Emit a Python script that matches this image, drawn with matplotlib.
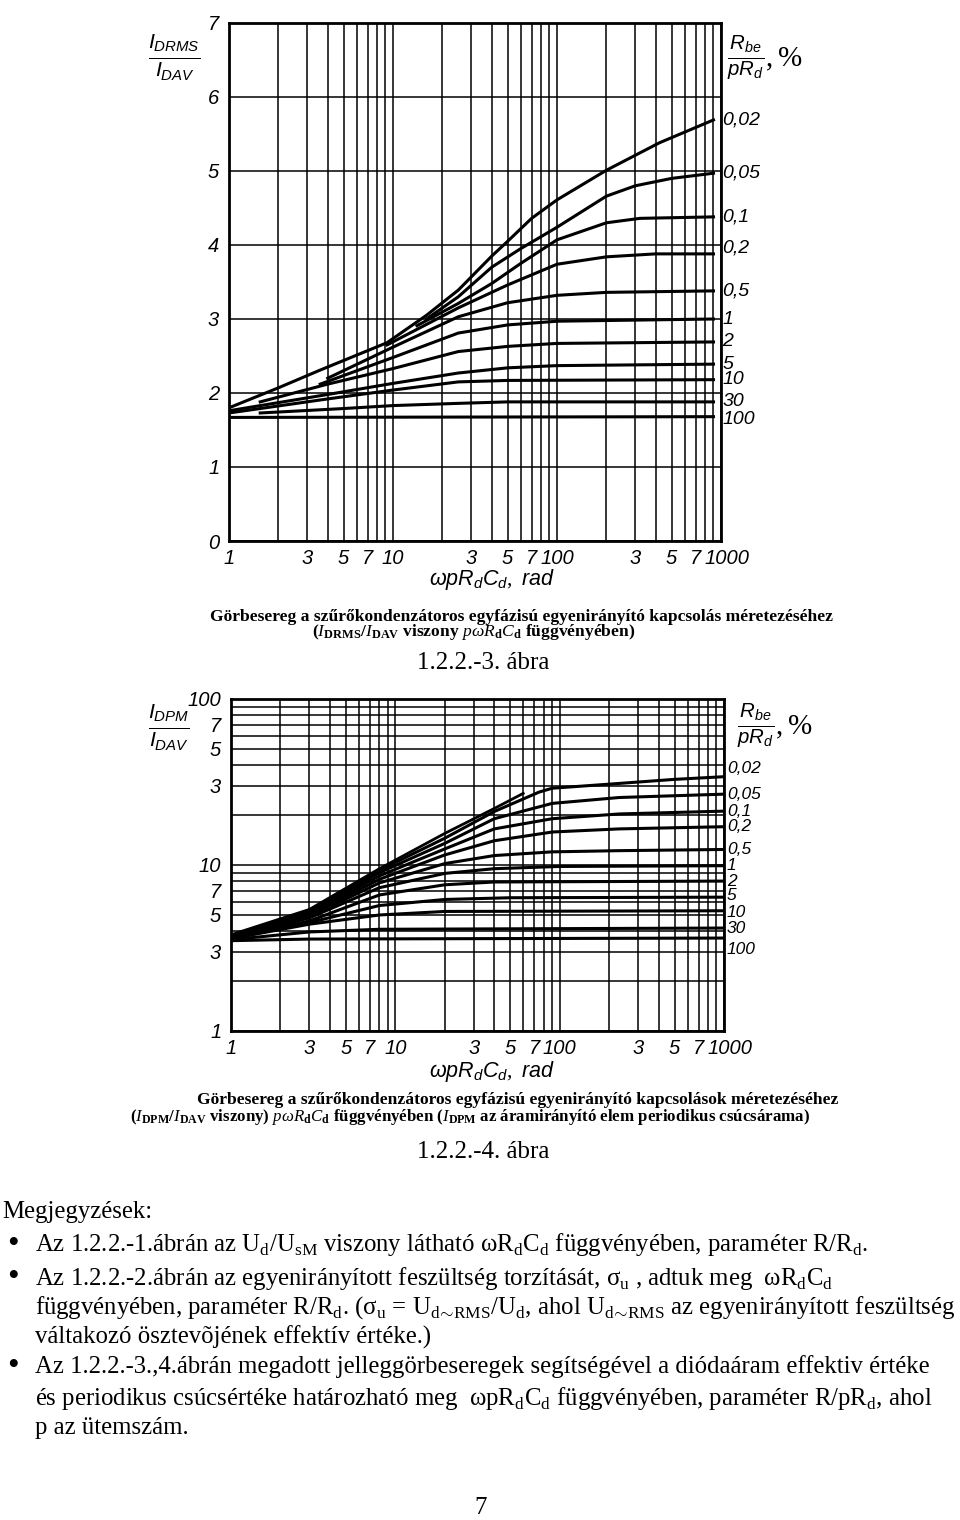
import matplotlib
matplotlib.use('Agg')
import matplotlib.pyplot as plt
from matplotlib.ticker import NullLocator
from matplotlib.transforms import ScaledTranslation

plt.rcParams['mathtext.fontset'] = 'custom'
plt.rcParams['mathtext.rm'] = 'Liberation Serif'
plt.rcParams['mathtext.it'] = 'Liberation Sans:italic'
plt.rcParams['mathtext.bf'] = 'Liberation Serif:bold'
plt.rcParams['mathtext.cal'] = 'Liberation Serif:italic'
plt.rcParams['mathtext.sf'] = 'Liberation Sans'

# ---- data ----
param_labels = ['0,02', '0,05', '0,1', '0,2', '0,5', '1', '2', '5', '10', '30', '100']

# 1.2.2.-3: I_DRMS / I_DAV vs omega*p*Rd*Cd
drms_x = [
    [1, 2, 3.6, 9.2, 16, 25, 40, 50, 70, 100, 200, 420, 900],
    [16, 25, 40, 60, 100, 200, 300, 500, 900],
    [14, 25, 40, 60, 100, 200, 320, 900],
    [9.2, 25, 50, 100, 200, 400, 900],
    [4.0, 10, 25, 50, 100, 200, 900],
    [3.6, 10, 25, 50, 100, 900],
    [1.55, 4, 10, 25, 50, 100, 900],
    [1, 4, 10, 25, 50, 100, 900],
    [1, 4, 10, 25, 50, 900],
    [1.55, 5, 10, 25, 50, 900],
    [1, 900],
]
drms_y = [
    [1.80, 2.07, 2.31, 2.68, 3.05, 3.39, 3.85, 4.05, 4.36, 4.61, 5.01, 5.38, 5.69],
    [3.00, 3.30, 3.70, 3.95, 4.24, 4.66, 4.80, 4.90, 4.97],
    [2.91, 3.21, 3.48, 3.75, 4.07, 4.30, 4.36, 4.38],
    [2.65, 3.15, 3.46, 3.74, 3.84, 3.88, 3.88],
    [2.20, 2.62, 3.03, 3.22, 3.32, 3.36, 3.38],
    [2.12, 2.48, 2.81, 2.92, 2.97, 3.00],
    [1.88, 2.12, 2.33, 2.56, 2.63, 2.67, 2.69],
    [1.76, 1.98, 2.13, 2.27, 2.34, 2.37, 2.39],
    [1.73, 1.92, 2.04, 2.15, 2.17, 2.18],
    [1.73, 1.79, 1.83, 1.86, 1.88, 1.88],
    [1.67, 1.68],
]

# 1.2.2.-4: I_DPM / I_DAV vs omega*p*Rd*Cd (log-log)
dpm_x = [
    [1, 3, 8, 20, 40, 75, 90, 230, 500, 980],
    [1, 3, 8, 20, 40, 90, 230, 980],
    [1, 3, 8, 20, 40, 90, 230, 980],
    [1, 3, 8, 20, 40, 90, 230, 980],
    [1, 3, 8, 20, 40, 90, 230, 980],
    [1, 3, 8, 20, 40, 100, 980],
    [1, 3, 8, 20, 40, 980],
    [1, 3, 8, 20, 50, 980],
    [1, 3, 8, 20, 980],
    [1, 3, 8, 980],
    [1, 3, 980],
]
dpm_y = [
    [3.75, 5.3, 9.3, 14.5, 21.0, 27.5, 29.0, 31.0, 32.8, 34.0],
    [3.75, 5.2, 9.0, 13.5, 19.0, 23.5, 25.5, 26.7],
    [3.70, 5.1, 8.6, 12.5, 16.5, 19.0, 20.3, 21.1],
    [3.70, 5.0, 8.2, 11.5, 14.0, 15.8, 16.5, 17.0],
    [3.70, 4.9, 7.8, 10.2, 11.4, 12.0, 12.2, 12.4],
    [3.65, 4.8, 7.3, 8.9, 9.5, 9.8, 9.9],
    [3.65, 4.6, 6.6, 7.6, 7.9, 8.0],
    [3.60, 4.5, 5.7, 6.2, 6.35, 6.4],
    [3.60, 4.4, 5.0, 5.25, 5.3],
    [3.55, 3.95, 4.1, 4.17],
    [3.50, 3.58, 3.63],
]
# short steep line drawn above the family, ending near 60
dpm_edge_x = [1, 3, 8, 20, 40, 60]
dpm_edge_y = [3.8, 5.4, 9.5, 15.5, 21.9, 27.0]

x_grid = [m * 10 ** e for e in range(3) for m in range(1, 10)] + [1000]
x_tick_text = {1: '1', 3: '3', 5: '5', 7: '7', 10: '10', 30: '3', 50: '5', 70: '7',
               100: '100', 300: '3', 500: '5', 700: '7', 1000: '1000'}
drms_y_ticks = [0, 1, 2, 3, 4, 5, 6, 7]
dpm_y_grid = list(range(1, 10)) + list(range(10, 101, 10))
dpm_y_tick_text = {1: '1', 3: '3', 5: '5', 7: '7', 10: '10', 30: '3', 50: '5', 70: '7', 100: '100'}

W, H = 960, 1520
fig = plt.figure(figsize=(W / 100, H / 100), dpi=100)
fig.patch.set_facecolor('white')

LET = dict(family='Liberation Sans', style='italic')


def ftext(x, y, s, **kw):
    return fig.text(x / W, 1 - y / H, s, **kw)


def px_axes(l, t, r, b):
    return fig.add_axes([l / W, 1 - b / H, (r - l) / W, (b - t) / H])


def dress(ax, yticks, ylabels):
    ax.set_xscale('log')
    ax.set_xlim(1, 1000)
    ax.set_xticks(x_grid)
    ax.set_xticklabels([x_tick_text.get(v, '') for v in x_grid])
    ax.xaxis.set_minor_locator(NullLocator())
    ax.set_yticks(yticks)
    ax.set_yticklabels(ylabels)
    ax.yaxis.set_minor_locator(NullLocator())
    ax.tick_params(length=0, labelsize=14.5)
    ax.tick_params(axis='x', pad=6)
    ax.tick_params(axis='y', pad=7)
    for lab in ax.get_xticklabels() + ax.get_yticklabels():
        lab.set_fontfamily('Liberation Sans')
        lab.set_fontstyle('italic')
    # the "1000" label sits a little to the right of its grid line
    last = ax.get_xticklabels()[-1]
    last.set_transform(last.get_transform() + ScaledTranslation(6 / 100, 0, fig.dpi_scale_trans))
    ax.grid(True, color='black', lw=1.1)
    ax.set_axisbelow(True)
    for sp in ax.spines.values():
        sp.set_linewidth(2)


# ---- top chart ----
ax1 = px_axes(229, 23, 721, 541)
ax1.set_ylim(0, 7)
dress(ax1, drms_y_ticks, [str(v) for v in drms_y_ticks])
for xs, ys in zip(drms_x, drms_y):
    ax1.plot(xs, ys, color='black', lw=2.2)
drms_dy = [0, 0, 0, 4, 0, 0, 0, 0, 0, 0, -2]
for lbl, ys, dy in zip(param_labels, drms_y, drms_dy):
    ax1.annotate(lbl, xy=(1, ys[-1]), xycoords=ax1.get_yaxis_transform(),
                 xytext=(1, dy), textcoords='offset points', ha='left', va='center',
                 fontsize=14, **LET)

ftext(174, 57, r'$\frac{I_{DRMS}}{I_{DAV}}$', fontsize=22, ha='center', va='center')
ftext(727, 58, r'$\frac{R_{be}}{pR_d},\%$', fontsize=21, ha='left', va='center')
ftext(492, 580, r'$\omega pR_dC_d,\ rad$', fontsize=15.5, ha='center', va='center')

CAP = dict(family='Liberation Serif', weight='bold', fontsize=12.6, va='center')
ftext(521, 617, 'Görbesereg a szűrőkondenzátoros egyfázisú egyenirányító kapcsolás méretezéséhez',
      ha='center', **CAP)
ftext(312, 632, r'($\mathcal{I}_{\mathbf{DRMS}}$/$\mathcal{I}_{\mathbf{DAV}}$ viszony '
      r'$\mathcal{pωR}_{\mathbf{d}}\mathcal{C}_{\mathbf{d}}$ függvényében)', ha='left', **CAP)
ftext(483, 663, '1.2.2.-3. ábra', family='Liberation Serif', fontsize=18, ha='center', va='center')

# ---- bottom chart ----
ax2 = px_axes(231, 699, 724, 1031)
ax2.set_yscale('log')
ax2.set_ylim(1, 100)
dress(ax2, dpm_y_grid, [dpm_y_tick_text.get(v, '') for v in dpm_y_grid])
for xs, ys in zip(dpm_x, dpm_y):
    ax2.plot(xs, ys, color='black', lw=2.2)
ax2.plot(dpm_edge_x, dpm_edge_y, color='black', lw=2.0)
dpm_dy = [6, 0, 0, 0, 0, 0, 0, 1, -1, 0, -8]
for lbl, ys, dy in zip(param_labels, dpm_y, dpm_dy):
    ax2.annotate(lbl, xy=(1, ys[-1]), xycoords=ax2.get_yaxis_transform(),
                 xytext=(2, dy), textcoords='offset points', ha='left', va='center',
                 fontsize=12.5, **LET)

ftext(169, 727, r'$\frac{I_{DPM}}{I_{DAV}}$', fontsize=22, ha='center', va='center')
ftext(737, 726, r'$\frac{R_{be}}{pR_d},\%$', fontsize=21, ha='left', va='center')
ftext(492, 1072, r'$\omega pR_dC_d,\ rad$', fontsize=15.5, ha='center', va='center')

ftext(518, 1100, 'Görbesereg a szűrőkondenzátoros egyfázisú egyenirányító kapcsolások méretezéséhez',
      ha='center', **CAP)
CAP2 = dict(CAP, fontsize=12.2)
ftext(130, 1117, r'($\mathcal{I}_{\mathbf{DPM}}$/$\mathcal{I}_{\mathbf{DAV}}$ viszony) '
      r'$\mathcal{pωR}_{\mathbf{d}}\mathcal{C}_{\mathbf{d}}$ függvényében '
      r'($\mathcal{I}_{\mathbf{DPM}}$ az áramirányító elem periodikus csúcsárama)', ha='left', **CAP2)
ftext(483, 1152, '1.2.2.-4. ábra', family='Liberation Serif', fontsize=18, ha='center', va='center')

# ---- notes ----
NOTE = dict(family='Liberation Serif', fontsize=17.8, ha='left', va='center')
ftext(2, 1212, 'Megjegyzések:', **NOTE)
bullet_rows = [1245, 1278, 1367]
for y in bullet_rows:
    ftext(7, y, '•', family='Liberation Serif', fontsize=24, ha='left', va='center')
RMS = r'$_{\mathrm{d}\!\sim\!\mathrm{RMS}}$'
ftext(35, 1245, r'Az 1.2.2.-1.ábrán az U$_\mathrm{d}$/U$_\mathrm{sM}$ viszony látható '
      r'ωR$_\mathrm{d}$C$_\mathrm{d}$ függvényében, paraméter R/R$_\mathrm{d}$.', **NOTE)
ftext(35, 1278, r'Az 1.2.2.-2.ábrán az egyenirányított feszültség torzítását, σ$_\mathrm{u}$ , '
      r'adtuk meg  ωR$_\mathrm{d}$C$_\mathrm{d}$', **NOTE)
ftext(35, 1308, r'függvényében, paraméter R/R$_\mathrm{d}$. (σ$_\mathrm{u}$ = '
      r'U' + RMS + r'/U$_\mathrm{d}$, ahol U' + RMS + r' az egyenirányított feszültség', **NOTE)
ftext(35, 1337, 'váltakozó ösztevõjének effektív értéke.)', **NOTE)
ftext(35, 1367, 'Az 1.2.2.-3.,4.ábrán megadott jelleggörbeseregek segítségével a diódaáram '
      'effektiv értéke', **NOTE)
ftext(35, 1398, r'és periodikus csúcsértéke határozható meg  ωpR$_\mathrm{d}$C$_\mathrm{d}$ '
      r'függvényében, paraméter R/pR$_\mathrm{d}$, ahol', **NOTE)
ftext(35, 1428, 'p az ütemszám.', **NOTE)
ftext(481, 1508, '7', family='Liberation Serif', fontsize=18, ha='center', va='center')

fig.savefig('out.png', dpi=100, facecolor='white')
